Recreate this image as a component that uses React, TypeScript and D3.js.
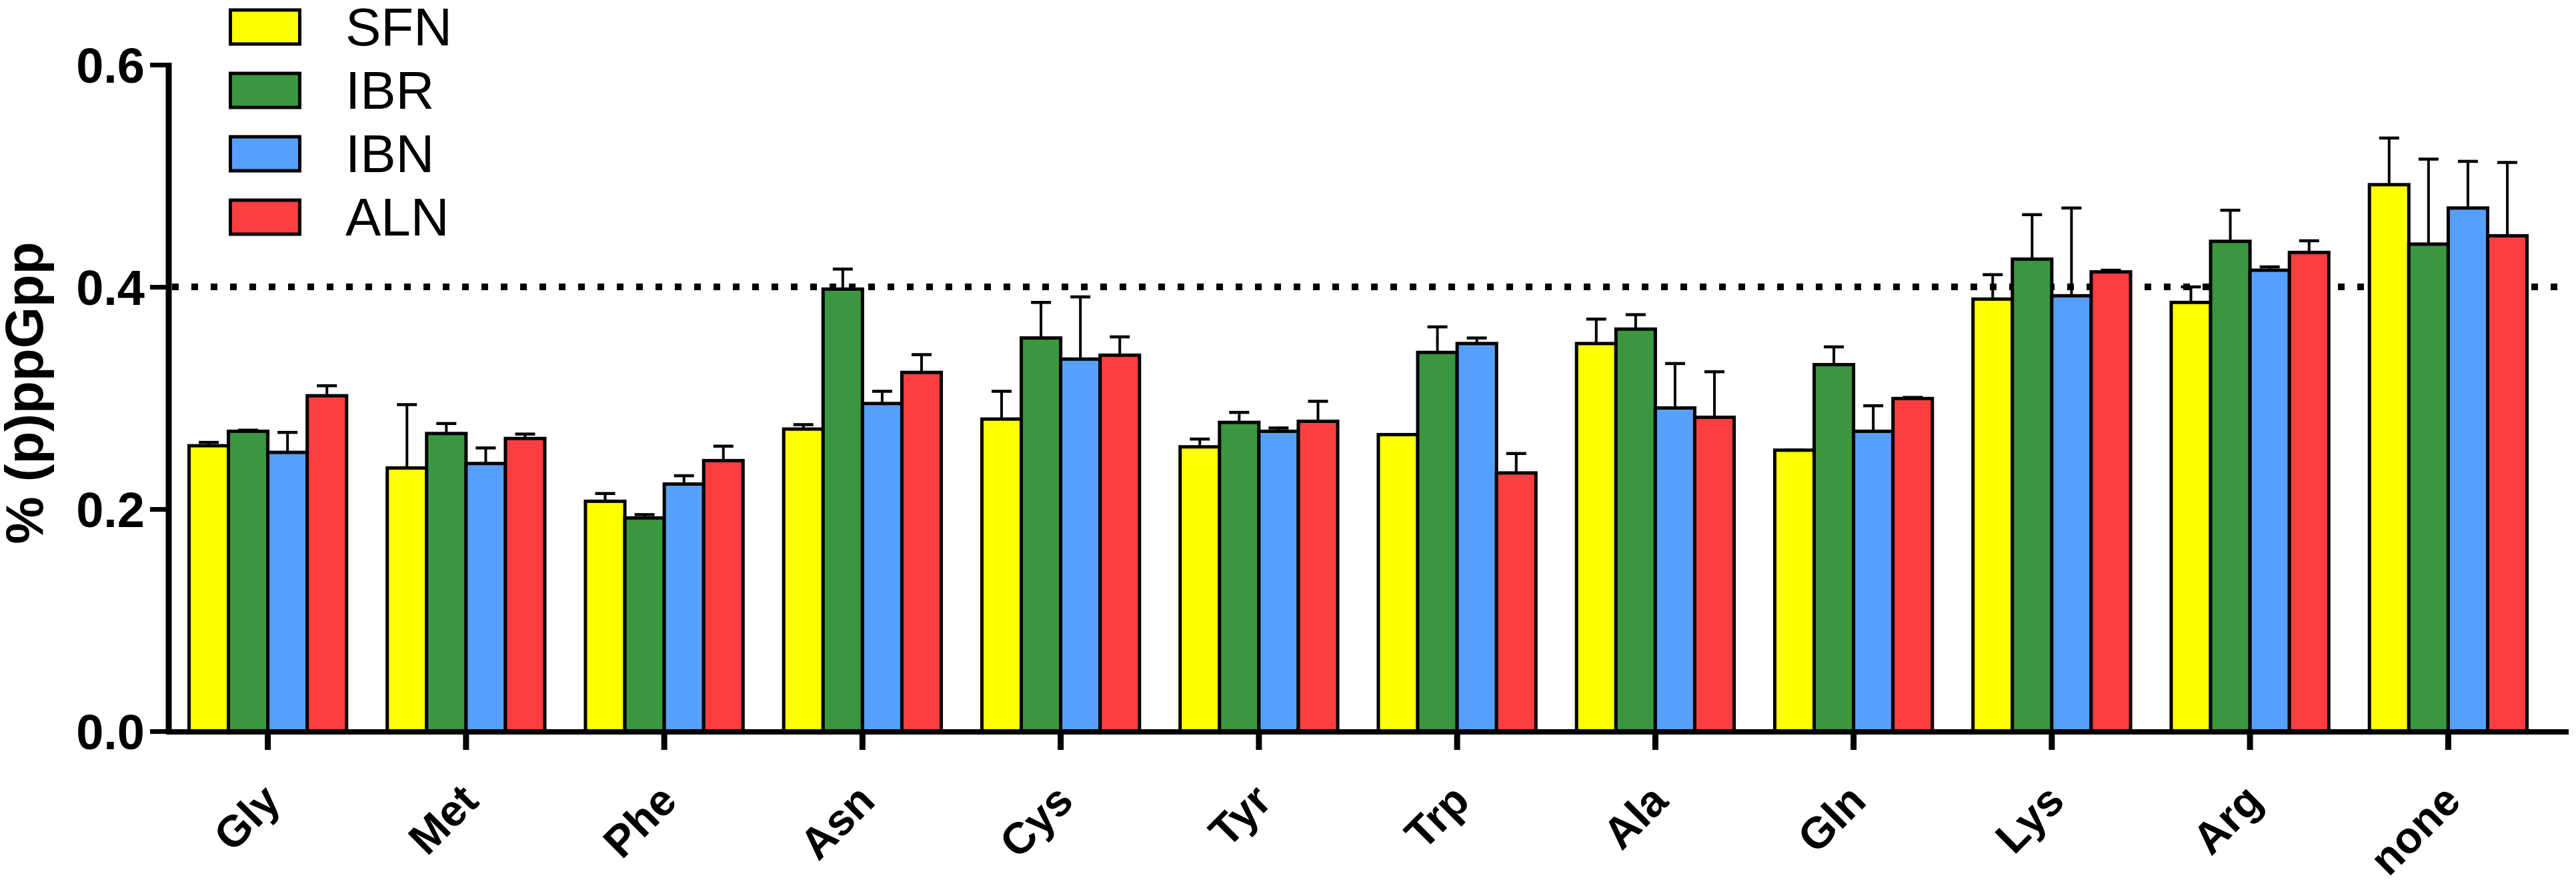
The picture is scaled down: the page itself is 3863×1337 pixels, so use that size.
import * as d3 from 'd3';
import React, { useEffect, useRef } from 'react';

const WIDTH = 3863;
const HEIGHT = 1337;

const categories = ['Gly', 'Met', 'Phe', 'Asn', 'Cys', 'Tyr', 'Trp', 'Ala', 'Gln', 'Lys', 'Arg', 'none'];
const seriesNames = ['SFN', 'IBR', 'IBN', 'ALN'];
const seriesColors = ['#ffff00', '#3b9640', '#56a0fb', '#fb3e3f'];

// mean values per series, one entry per category
const sfnMean = [0.257, 0.237, 0.207, 0.272, 0.281, 0.256, 0.267, 0.349, 0.253, 0.389, 0.386, 0.492];
const ibrMean = [0.27, 0.268, 0.192, 0.398, 0.354, 0.278, 0.341, 0.362, 0.33, 0.425, 0.441, 0.4385];
const ibnMean = [0.251, 0.241, 0.2225, 0.295, 0.335, 0.27, 0.349, 0.291, 0.27, 0.392, 0.415, 0.471];
const alnMean = [0.302, 0.2635, 0.2436, 0.323, 0.3385, 0.279, 0.2325, 0.2826, 0.2995, 0.4135, 0.431, 0.446];

// upper error (SEM)
const sfnErr = [0.003, 0.057, 0.007, 0.004, 0.025, 0.007, 0, 0.022, 0, 0.022, 0.014, 0.042];
const ibrErr = [0.001, 0.009, 0.003, 0.018, 0.032, 0.009, 0.023, 0.013, 0.016, 0.04, 0.028, 0.0765];
const ibnErr = [0.018, 0.014, 0.0075, 0.011, 0.056, 0.003, 0.005, 0.04, 0.023, 0.079, 0.003, 0.042];
const alnErr = [0.009, 0.004, 0.013, 0.016, 0.0165, 0.018, 0.0175, 0.041, 0.001, 0.0015, 0.0105, 0.066];

const yTicks = [0, 0.2, 0.4, 0.6];
const thresholdValue = 0.4;
const yTitle = '% (p)ppGpp';

const FONT = '"Liberation Sans", Arial, Helvetica, sans-serif';

export default function App() {
  const ref = useRef<SVGSVGElement | null>(null);

  useEffect(() => {
    document.body.style.margin = '0';
    const svg = d3.select(ref.current);
    svg.selectAll('*').remove();

    const means = [sfnMean, ibrMean, ibnMean, alnMean];
    const errs = [sfnErr, ibrErr, ibnErr, alnErr];

    const left = 253;
    const right = 3820;
    const axisEnd = 3852;
    const y0 = 1096;

    const x = d3.scaleBand<string>().domain(categories).range([left, right]).padding(0);
    const groupWidth = x.bandwidth() * 0.795;
    const xInner = d3
      .scaleBand<string>()
      .domain(seriesNames)
      .range([-groupWidth / 2, groupWidth / 2])
      .padding(0);

    const y = d3.scaleLinear().domain([0, 0.6]).range([y0, 97]);

    // threshold line
    svg
      .append('line')
      .attr('x1', left + 5)
      .attr('x2', axisEnd)
      .attr('y1', y(thresholdValue))
      .attr('y2', y(thresholdValue))
      .attr('stroke', '#000')
      .attr('stroke-width', 10)
      .attr('stroke-dasharray', '10 19');

    // bars
    const groups = svg
      .append('g')
      .selectAll('g')
      .data(categories)
      .join('g')
      .attr('transform', d => `translate(${(x(d) ?? 0) + x.bandwidth() / 2},0)`);

    seriesNames.forEach((s, si) => {
      groups
        .append('rect')
        .attr('x', xInner(s) ?? 0)
        .attr('width', xInner.bandwidth())
        .attr('y', (_, i) => y(means[si][i]))
        .attr('height', (_, i) => y0 - y(means[si][i]))
        .attr('fill', seriesColors[si])
        .attr('stroke', '#000')
        .attr('stroke-width', 5);
    });

    // error bars (upper only)
    const capW = 30;
    seriesNames.forEach((s, si) => {
      const cx = (xInner(s) ?? 0) + xInner.bandwidth() / 2;
      groups
        .append('line')
        .attr('x1', cx)
        .attr('x2', cx)
        .attr('y1', (_, i) => y(means[si][i]))
        .attr('y2', (_, i) => y(means[si][i] + errs[si][i]))
        .attr('stroke', '#000')
        .attr('stroke-width', 4);
      groups
        .append('line')
        .attr('x1', cx - capW / 2)
        .attr('x2', cx + capW / 2)
        .attr('y1', (_, i) => y(means[si][i] + errs[si][i]))
        .attr('y2', (_, i) => y(means[si][i] + errs[si][i]))
        .attr('stroke', '#000')
        .attr('stroke-width', 4.5);
    });

    // y axis
    const yAxis = svg
      .append('g')
      .attr('transform', `translate(${left},0)`)
      .call(
        d3
          .axisLeft(y)
          .tickValues(yTicks)
          .tickFormat(d3.format('.1f'))
          .tickSize(28)
          .tickPadding(8)
      );
    yAxis.select('.domain').remove();
    yAxis.selectAll('.tick line').attr('stroke', '#000').attr('stroke-width', 7);
    yAxis
      .selectAll('.tick text')
      .attr('font-family', FONT)
      .attr('font-weight', 'bold')
      .attr('font-size', 74)
      .attr('fill', '#000')
      .attr('dy', '0.36em');
    svg
      .append('line')
      .attr('x1', left)
      .attr('x2', left)
      .attr('y1', y(0.6) - 3)
      .attr('y2', y0 + 4)
      .attr('stroke', '#000')
      .attr('stroke-width', 9);

    // x axis
    const xAxis = svg
      .append('g')
      .attr('transform', `translate(0,${y0})`)
      .call(d3.axisBottom(x).tickSize(28).tickFormat(() => ''));
    xAxis.select('.domain').remove();
    xAxis.selectAll('.tick line').attr('stroke', '#000').attr('stroke-width', 9);
    svg
      .append('line')
      .attr('x1', left - 4)
      .attr('x2', axisEnd)
      .attr('y1', y0 + 1)
      .attr('y2', y0 + 1)
      .attr('stroke', '#000')
      .attr('stroke-width', 8);

    // x labels rotated
    svg
      .append('g')
      .selectAll('text')
      .data(categories)
      .join('text')
      .attr('transform', d => `translate(${(x(d) ?? 0) + x.bandwidth() / 2 + 22},${y0 + 108}) rotate(-45)`)
      .attr('text-anchor', 'end')
      .attr('font-family', FONT)
      .attr('font-weight', 'bold')
      .attr('font-size', 66)
      .attr('fill', '#000')
      .text(d => d);

    // y title
    svg
      .append('text')
      .attr('transform', `translate(64,589) rotate(-90)`)
      .attr('text-anchor', 'middle')
      .attr('font-family', FONT)
      .attr('font-weight', 'bold')
      .attr('font-size', 80)
      .attr('fill', '#000')
      .text(yTitle);

    // legend
    const legend = svg
      .append('g')
      .selectAll('g')
      .data(seriesNames)
      .join('g')
      .attr('transform', (_, i) => `translate(343,${15 + i * 95})`);
    legend
      .append('rect')
      .attr('x', 2.5)
      .attr('y', 0)
      .attr('width', 104)
      .attr('height', 51)
      .attr('fill', (_, i) => seriesColors[i])
      .attr('stroke', '#000')
      .attr('stroke-width', 5);
    legend
      .append('text')
      .attr('x', 175)
      .attr('y', 53)
      .attr('font-family', FONT)
      .attr('font-size', 80)
      .attr('fill', '#000')
      .text(d => d);
  }, []);

  return <svg ref={ref} width={WIDTH} height={HEIGHT} style={{ display: 'block', background: '#fff' }} />;
}
